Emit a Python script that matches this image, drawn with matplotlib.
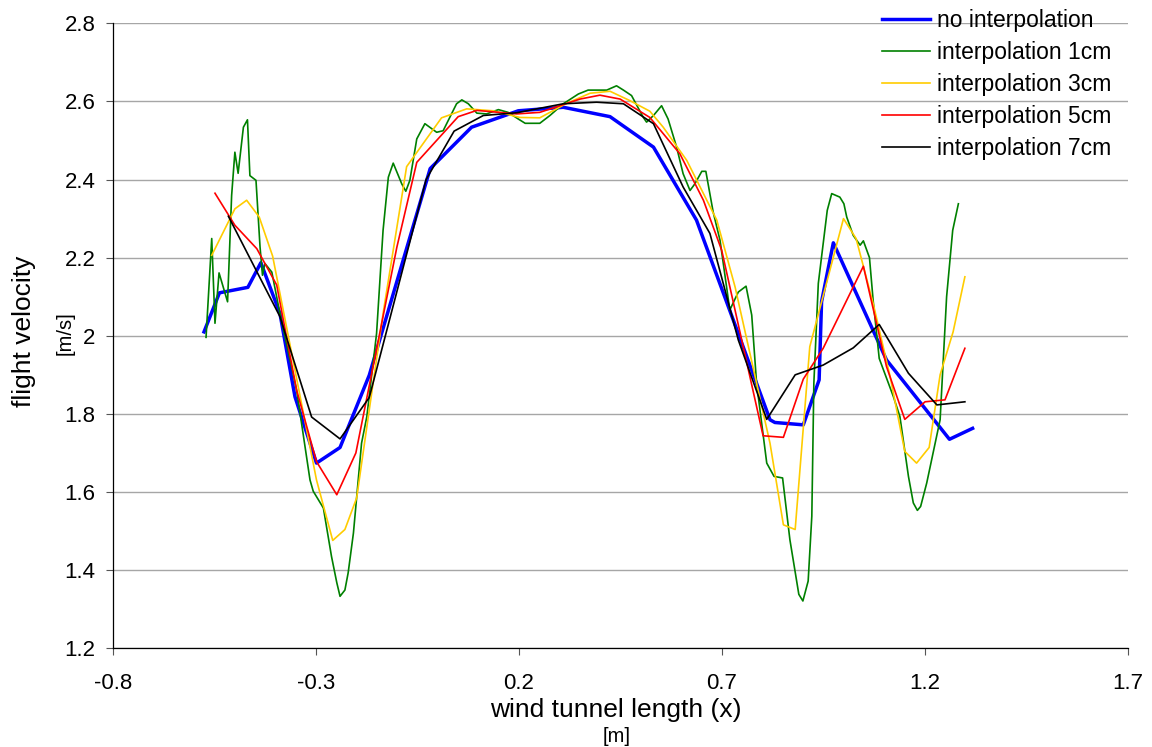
import matplotlib
matplotlib.use("Agg")
import matplotlib.pyplot as plt
from matplotlib.ticker import FuncFormatter

plt.rcParams['font.family'] = ['Liberation Sans', 'DejaVu Sans']

# no interpolation
x_raw = [-0.575, -0.537, -0.467, -0.435, -0.388, -0.351, -0.298, -0.240, -0.168, -0.018,
         0.084, 0.199, 0.261, 0.310, 0.425, 0.532, 0.638, 0.819, 0.831, 0.901,
         0.940, 0.946, 0.975, 1.106, 1.261, 1.318]
y_raw = [2.010, 2.110, 2.124, 2.187, 2.057, 1.844, 1.674, 1.714, 1.899, 2.428,
         2.534, 2.576, 2.581, 2.585, 2.561, 2.483, 2.296, 1.785, 1.778, 1.772,
         1.887, 2.087, 2.238, 1.938, 1.735, 1.763]

# interpolation 1cm
x_1cm = [-0.570, -0.556, -0.548, -0.538, -0.517, -0.507, -0.499, -0.491, -0.478, -0.468,
         -0.462, -0.447, -0.437, -0.431, -0.425, -0.408, -0.388, -0.347, -0.314, -0.306,
         -0.281, -0.261, -0.248, -0.240, -0.228, -0.220, -0.207, -0.187, -0.174, -0.150,
         -0.134, -0.121, -0.109, -0.088, -0.078, -0.068, -0.051, -0.031, -0.002, 0.014,
         0.047, 0.060, 0.076, 0.097, 0.121, 0.150, 0.174, 0.199, 0.216, 0.252,
         0.277, 0.310, 0.347, 0.371, 0.417, 0.441, 0.458, 0.478, 0.507, 0.515,
         0.532, 0.552, 0.568, 0.589, 0.605, 0.622, 0.634, 0.651, 0.661, 0.679,
         0.696, 0.720, 0.741, 0.760, 0.774, 0.786, 0.811, 0.829, 0.850, 0.868,
         0.890, 0.900, 0.913, 0.922, 0.927, 0.938, 0.960, 0.971, 0.991, 1.001,
         1.008, 1.024, 1.041, 1.049, 1.064, 1.073, 1.088, 1.123, 1.139, 1.160,
         1.172, 1.182, 1.190, 1.205, 1.238, 1.254, 1.269, 1.283]
y_1cm = [1.996, 2.249, 2.032, 2.161, 2.087, 2.359, 2.470, 2.416, 2.534, 2.553,
         2.410, 2.398, 2.227, 2.155, 2.185, 2.163, 2.057, 1.861, 1.631, 1.602,
         1.559, 1.435, 1.368, 1.333, 1.349, 1.393, 1.495, 1.725, 1.793, 2.006,
         2.270, 2.406, 2.442, 2.389, 2.370, 2.398, 2.504, 2.543, 2.521, 2.525,
         2.594, 2.604, 2.594, 2.570, 2.568, 2.579, 2.572, 2.555, 2.544, 2.544,
         2.564, 2.594, 2.619, 2.629, 2.629, 2.640, 2.629, 2.615, 2.559, 2.547,
         2.564, 2.589, 2.555, 2.483, 2.415, 2.372, 2.389, 2.421, 2.421, 2.317,
         2.244, 2.066, 2.112, 2.127, 2.053, 1.878, 1.674, 1.640, 1.636, 1.478,
         1.338, 1.321, 1.372, 1.538, 1.878, 2.134, 2.321, 2.364, 2.355, 2.338,
         2.304, 2.257, 2.232, 2.243, 2.200, 2.091, 1.942, 1.844, 1.793, 1.640,
         1.572, 1.553, 1.563, 1.623, 1.785, 2.100, 2.270, 2.338]

# interpolation 3cm
x_3cm = [-0.556, -0.499, -0.470, -0.439, -0.406, -0.298, -0.258, -0.228, -0.199, -0.134,
         -0.076, 0.010, 0.072, 0.137, 0.203, 0.252, 0.318, 0.376, 0.425, 0.474,
         0.523, 0.556, 0.614, 0.688, 0.733, 0.819, 0.852, 0.881, 0.917, 1.000,
         1.031, 1.073, 1.115, 1.151, 1.180, 1.211, 1.238, 1.270, 1.299]
y_3cm = [2.206, 2.325, 2.347, 2.304, 2.204, 1.631, 1.476, 1.504, 1.585, 2.057,
         2.433, 2.558, 2.581, 2.576, 2.559, 2.558, 2.595, 2.621, 2.626, 2.602,
         2.575, 2.534, 2.449, 2.296, 2.125, 1.725, 1.516, 1.504, 1.972, 2.300,
         2.249, 2.083, 1.895, 1.704, 1.674, 1.714, 1.900, 2.010, 2.151]

# interpolation 5cm
x_5cm = [-0.548, -0.499, -0.445, -0.396, -0.347, -0.298, -0.248, -0.201, -0.100, -0.051,
         0.051, 0.097, 0.195, 0.252, 0.310, 0.351, 0.400, 0.450, 0.523, 0.597,
         0.655, 0.700, 0.802, 0.852, 0.901, 0.950, 1.049, 1.106, 1.151, 1.201,
         1.250, 1.299]
y_5cm = [2.365, 2.283, 2.223, 2.130, 1.861, 1.678, 1.593, 1.700, 2.227, 2.444,
         2.561, 2.577, 2.568, 2.572, 2.592, 2.606, 2.616, 2.606, 2.559, 2.466,
         2.347, 2.219, 1.744, 1.740, 1.889, 1.968, 2.178, 1.921, 1.786, 1.831,
         1.836, 1.968]

# interpolation 7cm
x_7cm = [-0.515, -0.388, -0.310, -0.240, -0.168, -0.028, 0.041, 0.113, 0.195, 0.310,
         0.392, 0.458, 0.532, 0.605, 0.671, 0.741, 0.811, 0.881, 0.950, 1.024,
         1.088, 1.160, 1.230, 1.299]
y_7cm = [2.306, 2.049, 1.792, 1.736, 1.842, 2.400, 2.524, 2.564, 2.571, 2.594,
         2.598, 2.594, 2.543, 2.381, 2.262, 1.989, 1.786, 1.900, 1.925, 1.969,
         2.029, 1.904, 1.823, 1.831]

x_ticks = [-0.8, -0.3, 0.2, 0.7, 1.2, 1.7]
y_ticks = [1.2, 1.4, 1.6, 1.8, 2.0, 2.2, 2.4, 2.6, 2.8]

fig = plt.figure(figsize=(11.52, 7.47), dpi=100)
ax = fig.add_axes([0.0978, 0.1322, 0.8811, 0.8366])

ax.plot(x_raw, y_raw, color='#0000FF', lw=2.5, label='no interpolation')
ax.plot(x_1cm, y_1cm, color='#008000', lw=1.2, label='interpolation 1cm')
ax.plot(x_3cm, y_3cm, color='#FFCC00', lw=1.2, label='interpolation 3cm')
ax.plot(x_5cm, y_5cm, color='#FF0000', lw=1.2, label='interpolation 5cm')
ax.plot(x_7cm, y_7cm, color='#000000', lw=1.2, label='interpolation 7cm')

ax.set_xlim(-0.8, 1.7)
ax.set_ylim(1.2, 2.8)
ax.set_xticks(x_ticks)
ax.set_yticks(y_ticks)
fmt = FuncFormatter(lambda v, p: f'{v:g}')
ax.xaxis.set_major_formatter(fmt)
ax.yaxis.set_major_formatter(fmt)
ax.tick_params(direction='out', length=5, width=0.8, color='#555555', labelsize=16)
ax.tick_params(axis='y', pad=7.5)
ax.tick_params(axis='x', pad=13)

ax.grid(axis='y', color='#a6a6a6', lw=1.0)
ax.set_axisbelow(True)
for side in ['top', 'right']:
    ax.spines[side].set_visible(False)
for side in ['left', 'bottom']:
    ax.spines[side].set_color('#000000')
    ax.spines[side].set_linewidth(0.9)

# axis titles with units set as separate small text
fig.text(24 / 1152, 1 - 331 / 747, 'flight velocity', rotation=90,
         ha='center', va='center', fontsize=19)
fig.text(65 / 1152, 1 - 333 / 747, '[m/s]', rotation=90,
         ha='center', va='center', fontsize=14.5)
fig.text(616 / 1152, 1 - 710 / 747, 'wind tunnel length (x)',
         ha='center', va='center', fontsize=19)
fig.text(617 / 1152, 1 - 737 / 747, '[m]',
         ha='center', va='center', fontsize=14.5)

fig.legend(loc='upper left', bbox_to_anchor=(882 / 1152, 1 - 9.5 / 747),
           frameon=False, fontsize=16.5, handlelength=2.1, handletextpad=0.3,
           labelspacing=0.39, borderpad=0, borderaxespad=0)

fig.savefig('out.png', dpi=100)
